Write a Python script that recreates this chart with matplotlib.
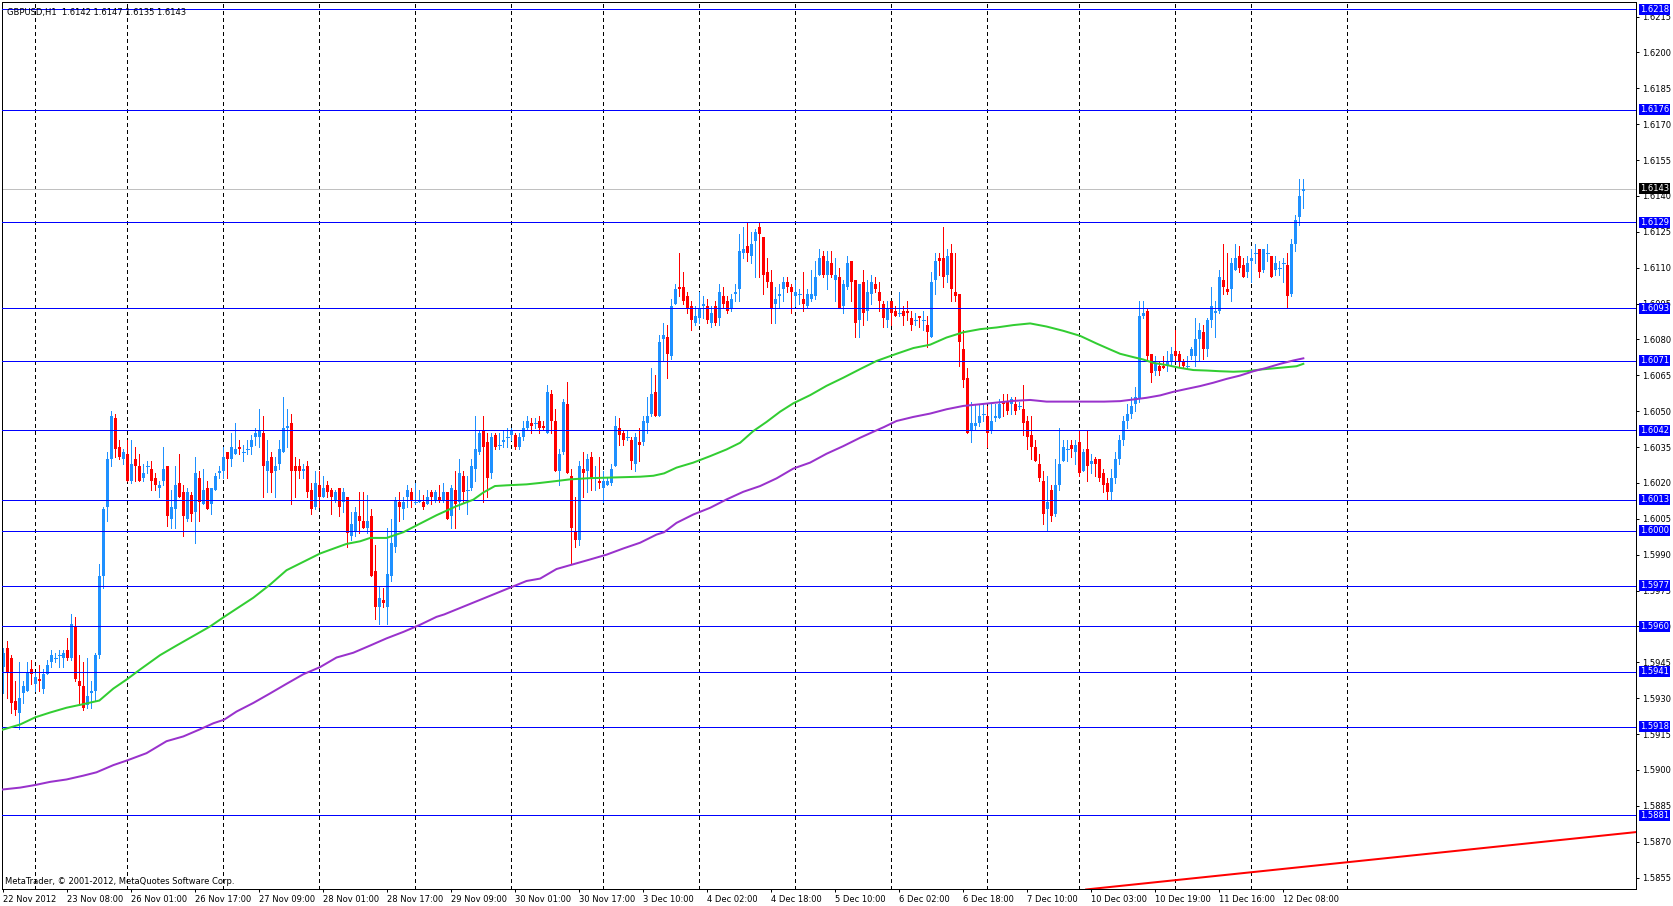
import matplotlib
matplotlib.use('Agg')
import matplotlib.pyplot as plt
import numpy as np

# ---------------- data (GBPUSD H1) ----------------
opens = [
1.5943,1.5951,1.5947,1.5929,1.5924,1.5932,1.5933,1.5942,1.5936,1.5938,
1.5934,1.5940,1.5945,1.5947,1.5948,1.5947,1.5950,1.5947,1.5960,1.5937,
1.5935,1.5927,1.5932,1.5933,1.5948,1.5981,1.6010,1.6030,1.6047,1.6035,
1.6030,1.6032,1.6021,1.6030,1.6027,1.6022,1.6027,1.6026,1.6022,1.6018,
1.6021,1.6027,1.6005,1.6009,1.6020,1.6016,1.6005,1.6015,1.6008,1.6022,
1.6011,1.6018,1.6011,1.6017,1.6024,1.6025,1.6033,1.6030,1.6032,1.6035,
1.6033,1.6034,1.6035,1.6039,1.6039,1.6041,1.6025,1.6031,1.6025,1.6028,
1.6033,1.6043,1.6045,1.6027,1.6027,1.6025,1.6027,1.6017,1.6010,1.6019,
1.6014,1.6019,1.6017,1.6013,1.6018,1.6012,1.6014,1.5998,1.6000,1.6006,
1.6004,1.6001,1.6006,1.5983,1.5968,1.5971,1.5968,1.5981,1.5993,1.6012,
1.6009,1.6014,1.6016,1.6012,1.6012,1.6012,1.6011,1.6016,1.6013,1.6014,
1.6013,1.6016,1.6006,1.6017,1.6012,1.6023,1.6017,1.6018,1.6026,1.6033,
1.6042,1.6037,1.6024,1.6040,1.6036,1.6037,1.6039,1.6040,1.6040,1.6035,
1.6039,1.6043,1.6045,1.6045,1.6046,1.6044,1.6041,1.6057,1.6046,1.6025,
1.6033,1.6053,1.6023,1.6000,1.5996,1.6026,1.6025,1.6031,1.6022,1.6021,
1.6018,1.6019,1.6020,1.6027,1.6043,1.6041,1.6039,1.6038,1.6028,1.6037,
1.6037,1.6045,1.6049,1.6058,1.6048,1.6080,1.6081,1.6073,1.6095,1.6102,
1.6102,1.6098,1.6094,1.6087,1.6089,1.6094,1.6094,1.6087,1.6094,1.6089,
1.6098,1.6096,1.6093,1.6099,1.6101,1.6116,1.6119,1.6115,1.6121,1.6127,
1.6123,1.6108,1.6104,1.6095,1.6098,1.6101,1.6104,1.6102,1.6098,1.6099,
1.6097,1.6094,1.6097,1.6098,1.6107,1.6115,1.6107,1.6112,1.6105,1.6106,
1.6094,1.6102,1.6113,1.6105,1.6088,1.6104,1.6092,1.6099,1.6103,1.6100,
1.6095,1.6088,1.6096,1.6092,1.6091,1.6092,1.6092,1.6089,1.6088,1.6090,
1.6088,1.6086,1.6081,1.6105,1.6114,1.6114,1.6107,1.6116,1.6100,1.6099,
1.6076,1.6064,1.6042,1.6044,1.6045,1.6049,1.6048,1.6042,1.6047,1.6047,
1.6054,1.6054,1.6053,1.6053,1.6052,1.6051,1.6046,1.6040,1.6035,1.6028,
1.6021,1.6009,1.6017,1.6007,1.6019,1.6029,1.6034,1.6036,1.6033,1.6037,
1.6025,1.6034,1.6028,1.6030,1.6030,1.6024,1.6020,1.6016,1.6022,1.6030,
1.6038,1.6046,1.6049,1.6053,1.6055,1.6090,1.6092,1.6074,1.6067,1.6069,
1.6069,1.6069,1.6071,1.6075,1.6074,1.6071,1.6069,1.6073,1.6073,1.6080,
1.6083,1.6076,1.6088,1.6091,1.6092,1.6105,1.6101,1.6101,1.6109,1.6115,
1.6111,1.6108,1.6113,1.6116,1.6118,1.6109,1.6116,1.6115,1.6109,1.6110,
1.6112,1.6111,1.6099,1.6120,1.6131,1.6142]

highs = [
1.5951,1.5954,1.5948,1.5937,1.5945,1.5937,1.5945,1.5946,1.5941,1.5944,
1.5942,1.5946,1.5950,1.5949,1.5950,1.5950,1.5955,1.5965,1.5964,1.5948,
1.5945,1.5947,1.5937,1.5949,1.5986,1.6010,1.6033,1.6050,1.6049,1.6038,
1.6034,1.6038,1.6038,1.6035,1.6032,1.6028,1.6029,1.6029,1.6024,1.6021,
1.6035,1.6027,1.6017,1.6027,1.6032,1.6019,1.6018,1.6016,1.6031,1.6025,
1.6026,1.6021,1.6018,1.6024,1.6027,1.6035,1.6033,1.6041,1.6045,1.6038,
1.6036,1.6038,1.6040,1.6043,1.6051,1.6048,1.6038,1.6033,1.6031,1.6038,
1.6056,1.6051,1.6049,1.6031,1.6030,1.6028,1.6029,1.6020,1.6025,1.6025,
1.6023,1.6021,1.6018,1.6017,1.6018,1.6018,1.6014,1.6008,1.6010,1.6016,
1.6016,1.6015,1.6009,1.5994,1.5977,1.5976,1.6001,1.6005,1.6014,1.6016,
1.6014,1.6019,1.6018,1.6020,1.6017,1.6015,1.6017,1.6017,1.6017,1.6019,
1.6020,1.6016,1.6019,1.6025,1.6030,1.6025,1.6023,1.6030,1.6048,1.6042,
1.6048,1.6041,1.6041,1.6041,1.6041,1.6042,1.6043,1.6043,1.6041,1.6041,
1.6046,1.6048,1.6047,1.6047,1.6048,1.6046,1.6061,1.6059,1.6051,1.6034,
1.6055,1.6062,1.6026,1.6014,1.6029,1.6033,1.6032,1.6033,1.6027,1.6031,
1.6025,1.6022,1.6028,1.6048,1.6047,1.6042,1.6042,1.6039,1.6041,1.6043,
1.6048,1.6056,1.6068,1.6065,1.6082,1.6087,1.6086,1.6097,1.6103,1.6116,
1.6108,1.6100,1.6096,1.6094,1.6100,1.6098,1.6097,1.6094,1.6096,1.6103,
1.6102,1.6098,1.6099,1.6103,1.6124,1.6127,1.6129,1.6125,1.6126,1.6129,
1.6123,1.6114,1.6109,1.6102,1.6103,1.6106,1.6106,1.6103,1.6105,1.6101,
1.6108,1.6101,1.6109,1.6113,1.6118,1.6117,1.6117,1.6117,1.6114,1.6110,
1.6105,1.6115,1.6113,1.6105,1.6103,1.6109,1.6105,1.6107,1.6106,1.6104,
1.6096,1.6096,1.6096,1.6094,1.6100,1.6094,1.6096,1.6092,1.6091,1.6090,
1.6092,1.6090,1.6108,1.6116,1.6116,1.6127,1.6118,1.6120,1.6116,1.6099,
1.6084,1.6068,1.6054,1.6053,1.6053,1.6053,1.6052,1.6053,1.6053,1.6055,
1.6057,1.6057,1.6056,1.6056,1.6054,1.6061,1.6048,1.6048,1.6038,1.6032,
1.6025,1.6023,1.6019,1.6030,1.6043,1.6038,1.6038,1.6038,1.6038,1.6042,
1.6034,1.6042,1.6032,1.6031,1.6030,1.6026,1.6022,1.6026,1.6033,1.6040,
1.6048,1.6053,1.6056,1.6060,1.6096,1.6096,1.6093,1.6074,1.6073,1.6071,
1.6073,1.6075,1.6077,1.6084,1.6075,1.6072,1.6073,1.6077,1.6089,1.6087,
1.6086,1.6089,1.6102,1.6096,1.6109,1.6120,1.6116,1.6114,1.6120,1.6119,
1.6114,1.6115,1.6118,1.6120,1.6118,1.6118,1.6120,1.6115,1.6115,1.6113,
1.6114,1.6116,1.6122,1.6132,1.6147,1.6147]

lows = [
1.5932,1.5930,1.5924,1.5923,1.5917,1.5928,1.5933,1.5936,1.5933,1.5933,
1.5932,1.5940,1.5943,1.5945,1.5943,1.5943,1.5946,1.5946,1.5937,1.5927,
1.5925,1.5926,1.5926,1.5929,1.5947,1.5976,1.6004,1.6027,1.6031,1.6030,
1.6028,1.6021,1.6020,1.6021,1.6021,1.6021,1.6024,1.6017,1.6017,1.6014,
1.6019,1.6002,1.6001,1.6001,1.6014,1.5998,1.6004,1.6004,1.5995,1.6004,
1.6011,1.6009,1.6007,1.6017,1.6022,1.6022,1.6022,1.6027,1.6032,1.6032,
1.6029,1.6032,1.6032,1.6036,1.6035,1.6014,1.6016,1.6016,1.6014,1.6026,
1.6033,1.6035,1.6011,1.6014,1.6022,1.6022,1.6014,1.6007,1.6009,1.6010,
1.6014,1.6014,1.6007,1.6012,1.6006,1.6008,1.5993,1.5996,1.5998,1.5999,
1.6001,1.5999,1.5981,1.5963,1.5961,1.5968,1.5961,1.5979,1.5991,1.6004,
1.6005,1.6010,1.6010,1.6011,1.6012,1.6009,1.6011,1.6011,1.6012,1.6012,
1.6012,1.6005,1.6001,1.6001,1.6009,1.6012,1.6007,1.6017,1.6021,1.6032,
1.6012,1.6014,1.6022,1.6034,1.6034,1.6035,1.6035,1.6038,1.6034,1.6034,
1.6038,1.6042,1.6041,1.6043,1.6041,1.6042,1.6041,1.6041,1.6025,1.6019,
1.6032,1.6024,1.5986,1.5993,1.5994,1.6014,1.6016,1.6017,1.6017,1.6018,
1.6012,1.6019,1.6019,1.6027,1.6036,1.6036,1.6038,1.6026,1.6025,1.6029,
1.6036,1.6041,1.6048,1.6048,1.6048,1.6071,1.6064,1.6072,1.6095,1.6098,
1.6095,1.6091,1.6084,1.6086,1.6087,1.6089,1.6087,1.6085,1.6086,1.6086,
1.6093,1.6091,1.6092,1.6096,1.6096,1.6114,1.6113,1.6112,1.6106,1.6106,
1.6099,1.6102,1.6087,1.6087,1.6093,1.6096,1.6100,1.6091,1.6094,1.6095,
1.6092,1.6093,1.6096,1.6097,1.6107,1.6106,1.6101,1.6106,1.6096,1.6093,
1.6091,1.6101,1.6096,1.6081,1.6081,1.6086,1.6088,1.6095,1.6100,1.6092,
1.6085,1.6085,1.6086,1.6090,1.6090,1.6086,1.6088,1.6084,1.6086,1.6085,
1.6084,1.6077,1.6081,1.6099,1.6107,1.6102,1.6104,1.6096,1.6096,1.6069,
1.6060,1.6041,1.6037,1.6042,1.6044,1.6046,1.6035,1.6041,1.6046,1.6047,
1.6048,1.6049,1.6049,1.6049,1.6051,1.6040,1.6034,1.6030,1.6029,1.6021,
1.6003,1.6000,1.6004,1.6006,1.6017,1.6029,1.6029,1.6031,1.6028,1.6023,
1.6025,1.6021,1.6024,1.6023,1.6021,1.6016,1.6013,1.6013,1.6020,1.6028,
1.6036,1.6043,1.6047,1.6050,1.6054,1.6089,1.6071,1.6062,1.6065,1.6065,
1.6068,1.6067,1.6069,1.6071,1.6069,1.6068,1.6068,1.6072,1.6069,1.6071,
1.6072,1.6073,1.6085,1.6081,1.6091,1.6099,1.6099,1.6096,1.6109,1.6108,
1.6106,1.6106,1.6104,1.6112,1.6106,1.6108,1.6113,1.6106,1.6107,1.6107,
1.6104,1.6093,1.6098,1.6117,1.6128,1.6135]

closes = [
1.5949,1.5941,1.5928,1.5925,1.5930,1.5935,1.5941,1.5940,1.5939,1.5937,
1.5940,1.5944,1.5948,1.5947,1.5948,1.5949,1.5947,1.5961,1.5938,1.5935,
1.5926,1.5931,1.5933,1.5948,1.5981,1.6009,1.6030,1.6048,1.6034,1.6031,
1.6033,1.6021,1.6028,1.6027,1.6021,1.6024,1.6027,1.6021,1.6019,1.6019,
1.6026,1.6006,1.6010,1.6019,1.6014,1.6006,1.6016,1.6007,1.6024,1.6012,
1.6017,1.6009,1.6018,1.6023,1.6025,1.6031,1.6030,1.6035,1.6034,1.6034,
1.6033,1.6034,1.6038,1.6041,1.6042,1.6027,1.6029,1.6024,1.6027,1.6034,
1.6043,1.6044,1.6025,1.6025,1.6025,1.6026,1.6016,1.6009,1.6020,1.6014,
1.6018,1.6016,1.6014,1.6016,1.6010,1.6016,1.5999,1.6003,1.6008,1.6004,
1.6001,1.6004,1.5981,1.5968,1.5972,1.5970,1.5982,1.5995,1.6013,1.6010,
1.6012,1.6017,1.6013,1.6012,1.6013,1.6010,1.6014,1.6014,1.6016,1.6013,
1.6016,1.6005,1.6018,1.6011,1.6024,1.6016,1.6017,1.6027,1.6034,1.6041,
1.6035,1.6022,1.6039,1.6035,1.6036,1.6038,1.6039,1.6042,1.6035,1.6039,
1.6043,1.6046,1.6044,1.6045,1.6043,1.6043,1.6058,1.6046,1.6025,1.6032,
1.6054,1.6024,1.6001,1.5996,1.6027,1.6024,1.6030,1.6022,1.6022,1.6020,
1.6021,1.6021,1.6026,1.6044,1.6040,1.6038,1.6039,1.6029,1.6039,1.6036,
1.6046,1.6048,1.6057,1.6048,1.6079,1.6082,1.6074,1.6094,1.6101,1.6101,
1.6096,1.6093,1.6088,1.6090,1.6093,1.6095,1.6088,1.6091,1.6087,1.6100,
1.6095,1.6092,1.6097,1.6100,1.6117,1.6118,1.6116,1.6120,1.6125,1.6124,
1.6107,1.6104,1.6093,1.6097,1.6099,1.6104,1.6102,1.6100,1.6100,1.6099,
1.6095,1.6099,1.6099,1.6106,1.6114,1.6107,1.6113,1.6107,1.6107,1.6093,
1.6103,1.6112,1.6104,1.6087,1.6103,1.6091,1.6100,1.6104,1.6101,1.6096,
1.6089,1.6093,1.6091,1.6090,1.6091,1.6090,1.6091,1.6086,1.6088,1.6089,
1.6088,1.6083,1.6104,1.6113,1.6113,1.6106,1.6115,1.6101,1.6098,1.6079,
1.6063,1.6041,1.6045,1.6045,1.6048,1.6049,1.6041,1.6046,1.6048,1.6053,
1.6053,1.6050,1.6055,1.6050,1.6052,1.6045,1.6039,1.6035,1.6029,1.6022,
1.6007,1.6012,1.6006,1.6019,1.6028,1.6035,1.6034,1.6034,1.6036,1.6024,
1.6033,1.6027,1.6029,1.6028,1.6022,1.6019,1.6016,1.6022,1.6030,1.6038,
1.6046,1.6049,1.6052,1.6056,1.6090,1.6091,1.6073,1.6066,1.6070,1.6067,
1.6068,1.6071,1.6074,1.6073,1.6071,1.6069,1.6069,1.6076,1.6080,1.6084,
1.6076,1.6088,1.6094,1.6092,1.6106,1.6102,1.6100,1.6112,1.6114,1.6110,
1.6106,1.6112,1.6114,1.6116,1.6108,1.6118,1.6116,1.6106,1.6112,1.6110,
1.6112,1.6098,1.6120,1.6130,1.6140,1.6143]

# moving averages (bar index, price)
green_bars = [-0.8, 4.2, 8.0, 11.7, 15.8, 20.0, 24.0, 27.5, 31.0, 34.2,
              39.2, 43.3, 47.5, 51.7, 55.2, 58.3, 62.5, 66.7, 70.8, 75.0,
              79.2, 83.3, 85.8, 89.2, 91.7, 95.8, 100.0, 104.2, 108.3, 113.3,
              117.5, 120.0, 122.9, 125.8, 130.8, 134.2, 138.3, 141.7, 146.7, 150.8,
              155.0, 159.2, 162.5, 165.2, 168.3, 172.5, 176.7, 180.8, 184.2, 187.5,
              190.8, 194.2, 197.5, 201.7, 205.8, 210.0, 214.2, 218.3, 223.3, 227.5,
              231.7, 235.8, 240.0, 244.2, 248.3, 252.5, 256.7, 260.8, 265.0, 269.2,
              273.3, 276.7, 279.2, 282.5, 285.0, 287.5, 290.8, 294.2, 297.5, 300.8,
              304.2, 307.5, 310.8, 314.2, 317.5, 320.8, 323.3, 325.0]
green_vals = [1.59165, 1.5919, 1.5922, 1.5924, 1.5926, 1.59275, 1.5929, 1.5934, 1.5938, 1.5942,
              1.5948, 1.5952, 1.5956, 1.5960, 1.5964, 1.59674, 1.5972, 1.59775, 1.59835, 1.5987,
              1.59905, 1.5993, 1.59945, 1.59956, 1.5997, 1.5997, 1.59994, 1.6003, 1.60065, 1.60103,
              1.6013, 1.6016, 1.60187, 1.6019, 1.60194, 1.6020, 1.60208, 1.60215, 1.6022, 1.60222,
              1.60224, 1.60226, 1.6023, 1.6024, 1.60264, 1.60285, 1.60312, 1.6034, 1.60368, 1.60417,
              1.60455, 1.60498, 1.60533, 1.60567, 1.60606, 1.6064, 1.60676, 1.6071, 1.6074, 1.60764,
              1.60778, 1.60808, 1.6083, 1.60843, 1.6085, 1.6086, 1.60867, 1.60854, 1.60836, 1.60815,
              1.60783, 1.60758, 1.6074, 1.60726, 1.60716, 1.60702, 1.60693, 1.60681, 1.60672, 1.6067,
              1.60667, 1.60665, 1.60667, 1.60674, 1.60679, 1.60684, 1.60688, 1.60698]
purple_bars = [-0.8, 4.2, 8.0, 11.7, 15.8, 20.0, 23.3, 27.5, 31.0, 35.8,
               40.8, 45.0, 49.2, 52.5, 55.2, 58.3, 62.5, 66.7, 70.8, 75.0,
               79.2, 83.3, 87.5, 91.7, 95.8, 100.0, 104.2, 108.3, 110.2, 130.8,
               134.2, 138.3, 142.5, 146.7, 150.8, 155.0, 159.2, 163.3, 165.2, 168.3,
               172.5, 176.7, 180.8, 185.0, 189.2, 193.3, 197.5, 201.7, 205.8, 210.0,
               214.2, 218.3, 220.2, 223.3, 227.5, 231.7, 235.8, 240.0, 244.2, 248.3,
               252.5, 256.7, 260.8, 265.0, 269.2, 275.2, 279.2, 282.5, 285.8, 289.2,
               292.5, 295.8, 299.2, 302.5, 305.8, 309.2, 312.5, 315.8, 319.2, 322.5,
               325.0]
purple_vals = [1.58917, 1.58926, 1.58937, 1.5895, 1.5896, 1.58976, 1.5899, 1.5902, 1.5904, 1.5907,
               1.5912, 1.5914, 1.5917, 1.59195, 1.5921, 1.59244, 1.5928, 1.5932, 1.5936, 1.5940,
               1.5943, 1.5947, 1.5949, 1.5952, 1.5955, 1.59577, 1.59607, 1.5964, 1.5965, 1.5979,
               1.5980, 1.5984, 1.5986, 1.5988, 1.5990, 1.59926, 1.5995, 1.59984, 1.59994, 1.60033,
               1.60068, 1.60096, 1.60131, 1.60163, 1.60187, 1.60219, 1.6026, 1.60285, 1.60322, 1.60354,
               1.60389, 1.6042, 1.60434, 1.60459, 1.60476, 1.6049, 1.60508, 1.60522, 1.60529, 1.60536,
               1.60543, 1.60547, 1.6054, 1.6054, 1.6054, 1.6054, 1.60542, 1.60549, 1.60556, 1.60566,
               1.60581, 1.60593, 1.60605, 1.60619, 1.60635, 1.60649, 1.60667, 1.60681, 1.60698, 1.60712,
               1.60721]

level_prices = [1.6218, 1.6176, 1.6129, 1.6093, 1.6071, 1.6042, 1.6013,
                1.6000, 1.5977, 1.5960, 1.5941, 1.5918, 1.5881]
current_price = 1.6143
trend_bars = [270.7, 408.2]
trend_prices = [1.5850, 1.5874]
grid_bars = [8, 31, 55, 79, 103, 127, 150, 174, 198, 222, 246, 269, 293, 312, 336]
date_labels = ["22 Nov 2012", "23 Nov 08:00", "26 Nov 01:00", "26 Nov 17:00",
               "27 Nov 09:00", "28 Nov 01:00", "28 Nov 17:00", "29 Nov 09:00",
               "30 Nov 01:00", "30 Nov 17:00", "3 Dec 10:00", "4 Dec 02:00",
               "4 Dec 18:00", "5 Dec 10:00", "6 Dec 02:00", "6 Dec 18:00",
               "7 Dec 10:00", "10 Dec 03:00", "10 Dec 19:00", "11 Dec 16:00",
               "12 Dec 08:00"]
label_bars = [0, 16, 32, 48, 64, 80, 96, 112, 128, 144, 160, 176, 192, 208,
              224, 240, 256, 272, 288, 304, 320]
ytick_values = [1.5855, 1.5870, 1.5885, 1.5900, 1.5915, 1.5930, 1.5945, 1.5960,
                1.5975, 1.5990, 1.6005, 1.6020, 1.6035, 1.6050, 1.6065, 1.6080,
                1.6095, 1.6110, 1.6125, 1.6140, 1.6155, 1.6170, 1.6185, 1.6200,
                1.6215]
header_text = "GBPUSD,H1  1.6142 1.6147 1.6135 1.6143"
copyright_text = "MetaTrader, \u00a9 2001-2012, MetaQuotes Software Corp."

# ---------------- figure ----------------
W, H, DPI = 1674, 906, 100
PX = 72.0 / DPI  # one pixel in points
FS = 6.0
plt.rcParams['font.family'] = ['DejaVu Sans']

fig = plt.figure(figsize=(W / DPI, H / DPI), dpi=DPI, facecolor='white')
left_px, right_px, top_px, bottom_px = 2, 1636, 2, 889
ax = fig.add_axes([left_px / W, (H - bottom_px) / H,
                   (right_px - left_px) / W, (bottom_px - top_px) / H])
ax.set_facecolor('white')

o = np.array(opens); h = np.array(highs); l = np.array(lows); c = np.array(closes)
x = np.arange(len(o))
bull = c >= o
cols = np.where(bull, '#1E90FF', '#FF0000')

# grid (vertical dashed)
for gb in grid_bars:
    ax.axvline(gb, color='black', lw=PX, linestyle=(0, (3, 3)), zorder=1,
               antialiased=False)

# current price line
ax.axhline(current_price, color='#C0C0C0', lw=PX, zorder=1.5, antialiased=False)

# candles
ax.vlines(x, l, h, colors=cols, lw=PX, antialiased=False, zorder=2)
bh = np.abs(c - o)
bb = np.minimum(o, c)
nz = bh > 1e-9
ax.bar(x[nz], bh[nz], bottom=bb[nz], width=0.75, color=cols[nz],
       linewidth=0, antialiased=False, zorder=2.1)
dz = ~nz
ax.hlines(o[dz], x[dz] - 0.375, x[dz] + 0.375, colors=cols[dz], lw=PX,
          antialiased=False, zorder=2.1)

# horizontal level lines
for p in level_prices:
    ax.axhline(p, color='#0000FF', lw=PX, zorder=3, antialiased=False)

# moving averages
ax.plot(green_bars, green_vals, color='#32CD32', lw=2 * PX, zorder=4)
ax.plot(purple_bars, purple_vals, color='#9932CC', lw=2 * PX, zorder=4)

# trend line
ax.plot(trend_bars, trend_prices, color='#FF0000', lw=2 * PX, zorder=4)

ax.set_xlim((left_px - 3.33) / 4.0, (right_px - 3.33) / 4.0)
ax.set_ylim(1.58502, 1.62211)

# axes styling
for s in ax.spines.values():
    s.set_color('black')
    s.set_linewidth(PX)

ax.yaxis.tick_right()
ax.set_yticks(ytick_values)
ax.set_yticklabels([f'{v:.4f}' for v in ytick_values])
ax.tick_params(axis='y', direction='out', length=3 * PX, width=PX, pad=2,
               labelsize=FS, colors='black')
ax.set_xticks(label_bars)
ax.set_xticklabels(date_labels, ha='left')
ax.tick_params(axis='x', direction='out', length=3 * PX, width=PX, pad=2,
               labelsize=FS, colors='black')

# price label boxes
for p in level_prices:
    ax.annotate(f'{p:.4f}', xy=(1, p), xycoords=('axes fraction', 'data'),
                xytext=(4, 0), textcoords='offset pixels', ha='left', va='center',
                color='white', fontsize=FS,
                bbox=dict(boxstyle='square,pad=0.12', fc='#0000FF', ec='none'),
                annotation_clip=False, zorder=6)
ax.annotate(f'{current_price:.4f}', xy=(1, current_price),
            xycoords=('axes fraction', 'data'), xytext=(4, 0),
            textcoords='offset pixels', ha='left', va='center', color='white',
            fontsize=FS, bbox=dict(boxstyle='square,pad=0.12', fc='black', ec='none'),
            annotation_clip=False, zorder=6)

# texts
ax.annotate(header_text, xy=(0, 1), xycoords='axes fraction', xytext=(5, -10),
            textcoords='offset pixels', ha='left', va='center', fontsize=FS,
            color='black', zorder=7)
ax.annotate(copyright_text, xy=(0, 0), xycoords='axes fraction', xytext=(3, 8),
            textcoords='offset pixels', ha='left', va='center', fontsize=FS,
            color='black', zorder=7)

fig.savefig('out.png', dpi=DPI, facecolor='white')
